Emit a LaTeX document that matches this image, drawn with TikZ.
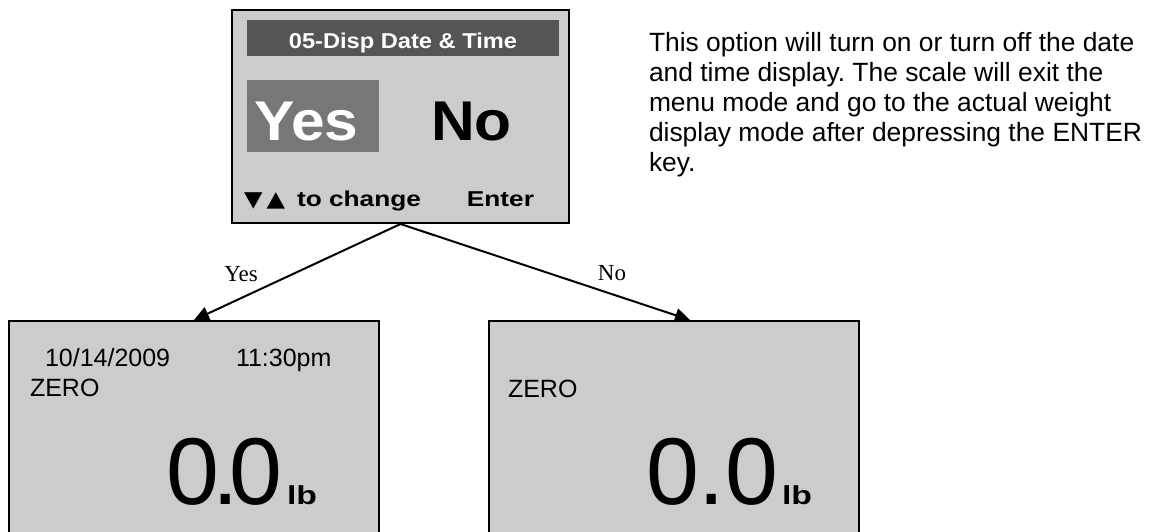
\documentclass[tikz,border=0pt]{standalone}
\usepackage{fontspec}
\usepackage{graphicx}
\setmainfont{Liberation Sans}
\newfontfamily\timesfont{Liberation Serif}
\newfontfamily\symfont{DejaVu Sans}
\usetikzlibrary{arrows.meta}
\frenchspacing

\definecolor{lcd}{HTML}{CCCCCC}
\definecolor{hdrgray}{HTML}{555555}
\definecolor{selgray}{HTML}{777777}

% horizontally widened text, as on the scale's display
\newcommand{\wide}[2]{\scalebox{#1}[1]{#2}}

\tikzset{
  lcdbox/.style={draw=black, fill=lcd, line width=2pt, anchor=north west, inner sep=0pt},
  txt/.style={inner sep=0pt, outer sep=0pt},
  infoline/.style={txt, anchor=base west, font=\fontsize{26.4}{30}\selectfont},
  flow/.style={draw=black, line width=2pt, -{Triangle[length=15pt, width=14pt]}},
  edgelbl/.style={inner sep=0pt, font=\timesfont\fontsize{23}{26}\selectfont}
}

\begin{document}
\begin{tikzpicture}[x=1pt, y=-1pt]
\useasboundingbox (0,0) rectangle (1151,531);

% menu screen
\node[lcdbox, minimum width=337pt, minimum height=213pt] (menu) at (231,9) {};
\node[txt, fill=hdrgray, anchor=north west, minimum width=312pt, minimum height=36pt] (hdr) at (247,20) {};
\node[txt, text=white, anchor=base, font=\bfseries\fontsize{21.5}{24}\selectfont] (hdrtxt) at (403,48)
  {\wide{1.1}{05-Disp Date \& Time}};
\node[txt, fill=selgray, anchor=north west, minimum width=132pt, minimum height=72pt] (sel) at (247,80) {};
\node[txt, text=white, anchor=base west, font=\bfseries\fontsize{56}{60}\selectfont] (yes) at (254,140) {\wide{1.08}{Yes}};
\node[txt, anchor=base west, font=\bfseries\fontsize{56}{60}\selectfont] (no) at (431,140) {\wide{1.08}{No}};
\node[txt, anchor=base west, font=\bfseries\fontsize{21.5}{24}\selectfont] (chg) at (244,206)
  {{\symfont\wide{1.12}{▼}\kern4pt\wide{1.12}{▲}}\kern12pt\wide{1.22}{to change}};
\node[txt, anchor=base east, font=\bfseries\fontsize{21.5}{24}\selectfont] (ent) at (534,206) {\wide{1.22}{Enter}};

% explanation
\node[infoline] (info1) at (649,51)  {This option will turn on or turn off the date};
\node[infoline] (info2) at (649,81)  {and time display. The scale will exit the};
\node[infoline] (info3) at (649,111) {menu mode and go to the actual weight};
\node[infoline] (info4) at (649,141) {display mode after depressing the ENTER};
\node[infoline] (info5) at (649,171) {key.};

% weight screens
\node[lcdbox, minimum width=370pt, minimum height=230pt] (dispA) at (8,320) {};
\node[lcdbox, minimum width=370pt, minimum height=230pt] (dispB) at (488,320) {};

\node[txt, anchor=base west, font=\fontsize{25}{28}\selectfont] (date) at (45,366) {10/14/2009};
\node[txt, anchor=base west, font=\fontsize{25}{28}\selectfont] (time) at (236,366) {11:30pm};
\node[txt, anchor=base west, font=\fontsize{25}{28}\selectfont] (zeroA) at (30,396) {ZERO};
\node[txt, anchor=base west, font=\fontsize{95}{100}\selectfont] (wA) at (166,504) {0\kern-6pt.\kern-10pt0};
\node[txt, anchor=base west, font=\bfseries\fontsize{26}{30}\selectfont] (lbA) at ([xshift=5pt]wA.base east) {\wide{1.3}{lb}};

\node[txt, anchor=base west, font=\fontsize{25}{28}\selectfont] (zeroB) at (508,397) {ZERO};
\node[txt, anchor=base west, font=\fontsize{95}{100}\selectfont] (wB) at (646,504) {0.0};
\node[txt, anchor=base west, font=\bfseries\fontsize{26}{30}\selectfont] (lbB) at ([xshift=4pt]wB.base east) {\wide{1.3}{lb}};

% branches
\coordinate (fork) at (menu.south);
\coordinate (tipA) at (194,320);
\coordinate (tipB) at (690,320);
\draw[flow] (fork) -- (tipA);
\draw[flow] (fork) -- (tipB);
\node[edgelbl, anchor=base] (lyes) at (241,281) {Yes};
\node[edgelbl, anchor=base] (lno) at (612,280) {No};
\end{tikzpicture}
\end{document}
